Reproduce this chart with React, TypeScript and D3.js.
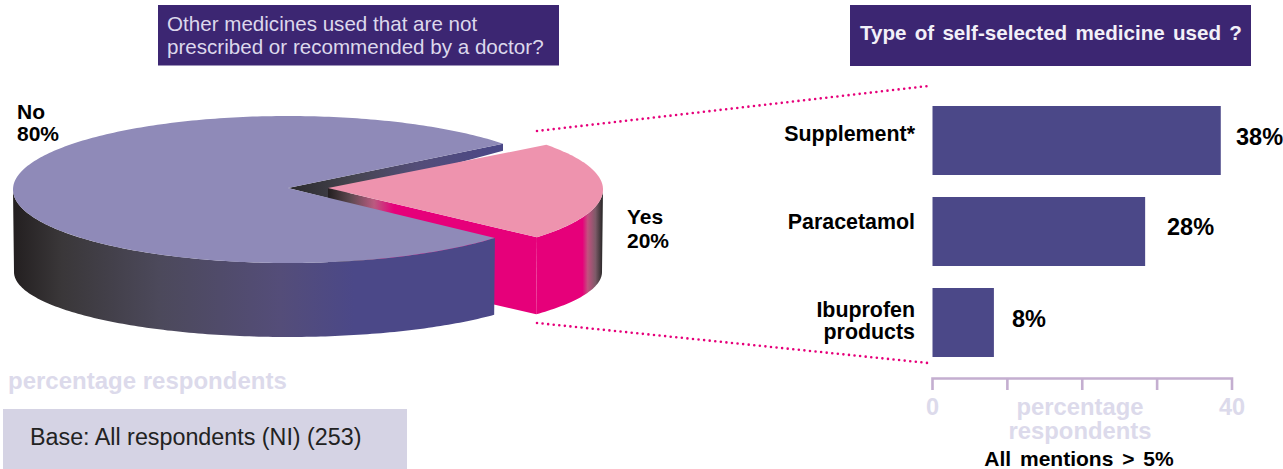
import React from "react";
import * as d3 from "d3";

const pieCategories = ["No", "Yes"];
const pieValues = [80, 20];
const pieLabels = ["80%", "20%"];
const barCategories = ["Supplement*", "Paracetamol", "Ibuprofen products"];
const barValues = [38.5, 28.4, 8.2];
const barLabels = ["38%", "28%", "8%"];
const axisTicks = [0, 10, 20, 30, 40];
const axisTickLabels = [0, 40];

const FONT = "'Liberation Sans', Arial, sans-serif";
const PURPLE = "#3c2672";
const BAR = "#4b4888";
const MAGENTA = "#e6007a";
const PALE = "#dcdaeb";
const RAD = Math.PI / 180;

// Ellipse projection of the tilted pie. Top and bottom rims have different ry (perspective).
const top = { rx: 275, ry: 73.5, cy: 189.5 };
const bot = { rx: 274, ry: 65, cy: 272 };
const noCx = 288;
const yesCx = 328;
const apexY = 188;
const yesSpread = 1.0833; // perspective widens the front slice on screen
const noSpread = 0.973;

// d3.pie angle 0 = 12 o'clock, clockwise. Yes slice faces the viewer's right.
const pieGen = d3.pie<number>().sort(null).startAngle(55.55 * RAD).endAngle(415.55 * RAD);
const [yesArc, noArc] = pieGen(pieValues.slice().reverse());
const yesMid = (yesArc.startAngle + yesArc.endAngle) / 2;
const yesHalf = ((yesArc.endAngle - yesArc.startAngle) / 2) * yesSpread;
const yesStart = yesMid - yesHalf;
const yesEnd = yesMid + yesHalf;
const noStart = yesEnd + 0.65 * RAD;
const noEnd = noStart + (noArc.endAngle - noArc.startAngle) * noSpread;

type E = typeof top;
const pt = (cx: number, e: E, a: number): [number, number] => [
  cx + e.rx * Math.sin(a),
  e.cy - e.ry * Math.cos(a),
];
const rim = (cx: number, e: E, a0: number, a1: number) => {
  const n = Math.max(8, Math.ceil(Math.abs(a1 - a0) / (1 * RAD)));
  return d3.range(n + 1).map((i) => pt(cx, e, a0 + ((a1 - a0) * i) / n));
};
const line = d3.line();
const closed = (pts: [number, number][]) => (line(pts) as string) + "Z";

const leftExt = 270 * RAD; // angle of the left-most rim point

const noTop = closed([[noCx, apexY] as [number, number], ...rim(noCx, top, noStart, noEnd)]);
const noSide = closed([...rim(noCx, top, noStart, leftExt), ...rim(noCx, bot, leftExt, noStart)]);
const noCorner = pt(noCx, top, noEnd);
const gapWall = closed([
  [noCx, apexY],
  noCorner,
  [noCorner[0], noCorner[1] + 7],
  [yesCx, apexY + 10],
]);
const yesTop = closed([[yesCx, apexY] as [number, number], ...rim(yesCx, top, yesStart, yesEnd)]);
const yesRightA = 90 * RAD;
const yesOuter = closed([...rim(yesCx, top, yesRightA, yesEnd), ...rim(yesCx, bot, yesEnd, yesRightA)]);
const yesFront = pt(yesCx, top, yesEnd);
const yesFrontB = pt(yesCx, bot, yesEnd);
const yesInner = closed([
  [yesCx, apexY],
  yesFront,
  yesFrontB,
  [yesCx, apexY + 78],
]);

const x = d3.scaleLinear().domain([0, 40]).range([932.5, 1232]);
const y = d3.scaleBand<string>().domain(barCategories).range([106, 357]).paddingInner(22 / 91).paddingOuter(0);
const valueLabelX = [1236, 1167, 1012];
const valueLabelY = [145, 235, 327];
const catLines = barCategories.map((c) => (c === "Ibuprofen products" ? ["Ibuprofen", "products"] : [c]));
const catLabelY = [141, 229, 317];

const hStops = (id: string, x1: number, x2: number, stops: [number, string][]) => (
  <linearGradient id={id} gradientUnits="userSpaceOnUse" x1={x1} x2={x2} y1={0} y2={0}>
    {stops.map(([o, c], i) => (
      <stop key={i} offset={o} stopColor={c} />
    ))}
  </linearGradient>
);

export default function App() {
  return (
    <svg
      width={1283}
      height={469}
      viewBox="0 0 1283 469"
      style={{ position: "absolute", left: 0, top: 0, display: "block", fontFamily: FONT }}
    >
      <defs>
        {hStops("noSideG", 13, 500, [
          [0, "#231f20"],
          [0.1, "#3a3739"],
          [0.3, "#4c495b"],
          [0.55, "#544d79"],
          [0.7, "#4b4888"],
          [1, "#4b4888"],
        ])}
        {hStops("gapG", 288, 502, [
          [0, "#2b2a2c"],
          [0.3, "#45444f"],
          [0.6, "#534d78"],
          [1, "#4b4888"],
        ])}
        {hStops("yesInnerG", 328, 394, [
          [0, "#231f20"],
          [0.35, "#5f4a52"],
          [0.7, "#bb5a80"],
          [1, MAGENTA],
        ])}
        {hStops("yesOuterG", 537, 602, [
          [0, MAGENTA],
          [0.7, MAGENTA],
          [0.78, "#c2517f"],
          [0.9, "#7d5a68"],
          [1, "#2e2b2c"],
        ])}
      </defs>

      {/* Question boxes */}
      <rect x={158} y={5} width={401} height={60.5} fill={PURPLE} />
      <text x={167} y={30.5} fontSize={20.6} fill="#dcd8ec">Other medicines used that are not</text>
      <text x={167} y={53.5} fontSize={20.6} fill="#dcd8ec">prescribed or recommended by a doctor?</text>
      <rect x={850} y={5} width={401} height={61} fill={PURPLE} />
      <text x={860} y={40} fontSize={20.6} fontWeight={700} fill="#f2f0f8" wordSpacing={2.5}>
        Type of self-selected medicine used ?
      </text>

      {/* Pie */}
      <path d={gapWall} fill="url(#gapG)" />
      <path d={yesOuter} fill="url(#yesOuterG)" />
      <path d={yesInner} fill="url(#yesInnerG)" />
      <path d={yesTop} fill="#ee93ae" />
      <path d={noSide} fill="url(#noSideG)" />
      <path d={noTop} fill="#8f8ab8" />

      <text x={17} y={119} fontSize={21} fontWeight={700} fill="#000">{pieCategories[0]}</text>
      <text x={17} y={141} fontSize={21} fontWeight={700} fill="#000">{pieLabels[0]}</text>
      <text x={627} y={224} fontSize={21} fontWeight={700} fill="#000">{pieCategories[1]}</text>
      <text x={627} y={248} fontSize={21} fontWeight={700} fill="#000">{pieLabels[1]}</text>

      {/* Leader lines */}
      <line x1={537} y1={131} x2={928} y2={86} stroke={MAGENTA} strokeWidth={2.6} strokeLinecap="round" strokeDasharray="0 5.6" />
      <line x1={537} y1={323} x2={928} y2={363} stroke={MAGENTA} strokeWidth={2.6} strokeLinecap="round" strokeDasharray="0 5.6" />

      {/* Bars */}
      {barCategories.map((c, i) => (
        <g key={c}>
          <rect x={x(0)} y={y(c)} width={x(barValues[i]) - x(0)} height={y.bandwidth()} fill={BAR} />
          {catLines[i].map((l, j) => (
            <text key={l} x={915} y={catLabelY[i] + j * 22} textAnchor="end" fontSize={21.4} fontWeight={700} fill="#000">
              {l}
            </text>
          ))}
          <text x={valueLabelX[i]} y={valueLabelY[i]} fontSize={23.5} fontWeight={700} fill="#000">
            {barLabels[i]}
          </text>
        </g>
      ))}

      {/* Axis */}
      <path d={`M${x(0)},390V378.5H${x(40)}V390`} fill="none" stroke="#c4aed0" strokeWidth={2.6} />
      {axisTicks.slice(1, -1).map((t) => (
        <line key={t} x1={x(t)} x2={x(t)} y1={378.5} y2={390} stroke="#c4aed0" strokeWidth={2.6} />
      ))}
      {axisTickLabels.map((t) => (
        <text key={t} x={x(t)} y={415} textAnchor="middle" fontSize={23.5} fontWeight={700} fill={PALE}>
          {t}
        </text>
      ))}
      <text x={1080} y={415} textAnchor="middle" fontSize={23.8} fontWeight={700} fill={PALE}>percentage</text>
      <text x={1080} y={439} textAnchor="middle" fontSize={23.8} fontWeight={700} fill={PALE}>respondents</text>
      <text x={1079} y={466} textAnchor="middle" fontSize={21} fontWeight={700} fill="#000" wordSpacing={3}>All mentions &gt; 5%</text>

      {/* Footer */}
      <text x={8} y={389} fontSize={24} fontWeight={700} fill={PALE}>percentage respondents</text>
      <rect x={3} y={409} width={404} height={60} fill="#d5d3e4" />
      <text x={30} y={445} fontSize={23.3} fill="#222">Base: All respondents (NI) (253)</text>
    </svg>
  );
}
